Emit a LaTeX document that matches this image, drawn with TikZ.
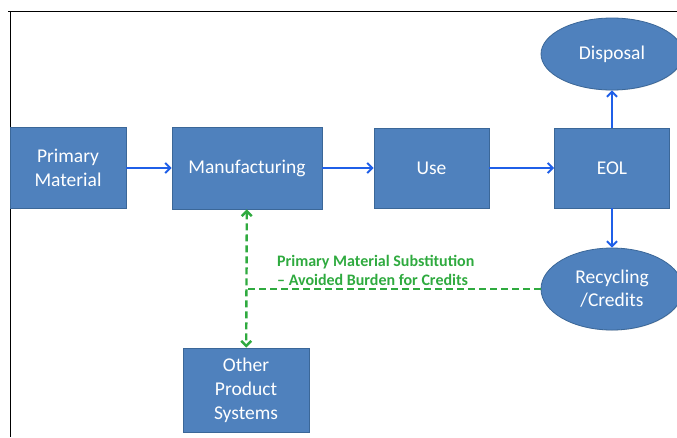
\documentclass[tikz,border=0pt]{standalone}
\usepackage{fontspec}
\setmainfont{Carlito}
\usetikzlibrary{arrows.meta, positioning, shapes.geometric, shadows}
\definecolor{boxblue}{HTML}{4F81BD}
\definecolor{boxedge}{HTML}{3B6798}
\definecolor{flowblue}{HTML}{1F5FE8}
\definecolor{creditgreen}{HTML}{2FAA3F}

\begin{document}
\begin{tikzpicture}[x=1pt, y=-1pt,
    procbox/.style={rectangle, draw=boxedge, line width=0.8pt, fill=boxblue,
      text=white, font=\fontsize{19.5}{24}\selectfont, align=center, inner sep=0pt,
      drop shadow={shadow xshift=0.6pt, shadow yshift=-0.6pt, opacity=0.3}},
    endell/.style={ellipse, draw=boxedge, line width=0.8pt, fill=boxblue,
      text=white, font=\fontsize{19.5}{23}\selectfont, align=center, inner sep=0pt,
      drop shadow={shadow xshift=0.6pt, shadow yshift=-0.6pt, opacity=0.3}},
    flow/.style={draw=flowblue, line width=2pt, -{Straight Barb[length=5pt, width=10pt]}},
    credit/.style={draw=creditgreen, line width=2.4pt, dash pattern=on 7pt off 4pt}]
    \useasboundingbox (0,0) rectangle (677,437);

    % frame
    \draw[line width=0.8pt] (8,11) -- (677,11);
    \draw[line width=0.8pt] (10,11) -- (10,437);

    % --- main chain ---
    \node[procbox, minimum width=116pt, minimum height=81pt] (prim) at (68,168) {Primary\\Material};
    \node[procbox, minimum width=150pt, minimum height=82pt] (mfg) at (247,168) {Manufacturing};
    \node[procbox, minimum width=115pt, minimum height=80pt] (use) at (431.5,168) {Use};
    \node[procbox, minimum width=115pt, minimum height=80pt] (eol) at (612,168) {EOL};

    % --- end of life ---
    \node[endell, minimum width=142pt, minimum height=72pt] (disp) at (612,54) {Disposal};
    \node[endell, minimum width=142pt, minimum height=82pt] (rec) at (612,289) {Recycling\\/Credits};

    \node[procbox, minimum width=126pt, minimum height=84pt] (ops) at (246,390) {Other\\Product\\Systems};

    \draw[flow] (prim) -- (mfg);
    \draw[flow] (mfg) -- (use);
    \draw[flow] (use) -- (eol);
    \draw[flow] (eol) -- (disp);
    \draw[flow] (eol) -- (rec);

    % --- credits back to other systems ---
    \coordinate (junc) at (mfg.south |- rec.west);
    \draw[credit, {Straight Barb[length=5pt, width=10pt]}-{Straight Barb[length=5pt, width=10pt]}] (mfg) -- (ops);
    \draw[credit] (rec.west) -- (junc);
    \node[creditgreen, font=\bfseries\fontsize{16}{19}\selectfont, align=left, anchor=west, inner sep=0pt]
      (credlbl) at (277,270) {Primary Material Substitution\\– Avoided Burden for Credits};
\end{tikzpicture}
\end{document}
